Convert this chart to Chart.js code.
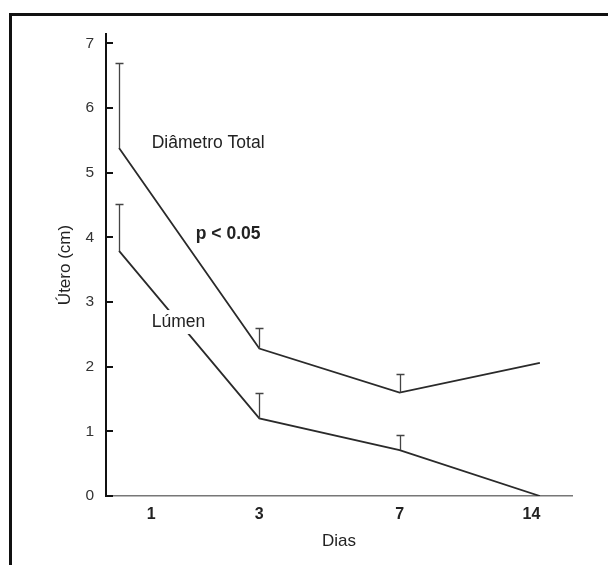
<!DOCTYPE html>
<html>
<head>
<meta charset="utf-8">
<script src="https://cdn.jsdelivr.net/npm/chart.js@4/dist/chart.umd.min.js"></script>
<style>
  html, body { margin: 0; padding: 0; background: #fff; width: 608px; height: 565px; overflow: hidden; }
  #frame { position: absolute; left: 9px; top: 13px; width: 700px; height: 700px; border-left: 3px solid #111; border-top: 3px solid #111; box-sizing: border-box; }
  #c { position: absolute; left: 0; top: 0; }
</style>
</head>
<body>
<div id="frame"></div>
<canvas id="c" width="608" height="565"></canvas>
<script>
// ---- data ----
const categories = ['1', '3', '7', '14'];           // Dias
const diametroTotal = [5.38, 2.28, 1.60, 2.06];     // cm
const diametroTotalErr = [1.32, 0.32, 0.29, null];  // upper error (SD)
const lumen = [3.79, 1.20, 0.71, 0.0];              // cm
const lumenErr = [0.72, 0.40, 0.23, null];
const yTicks = [0, 1, 2, 3, 4, 5, 6, 7];

const FONT = '"Liberation Sans", Arial, Helvetica, sans-serif';

const errorBarPlugin = {
  id: 'errorBars',
  afterDatasetsDraw(chart) {
    const {ctx, scales: {x, y}} = chart;
    ctx.save();
    ctx.strokeStyle = '#444';
    ctx.lineWidth = 1.3;
    chart.data.datasets.forEach(ds => {
      const errs = ds.errors || [];
      ds.data.forEach((p, i) => {
        const e = errs[i];
        if (e == null) return;
        const px = Math.round(x.getPixelForValue(p.x)) + 0.5;
        const py0 = y.getPixelForValue(p.y);
        const py1 = Math.round(y.getPixelForValue(p.y + e)) + 0.5;
        ctx.beginPath();
        ctx.moveTo(px, py0);
        ctx.lineTo(px, py1);
        ctx.moveTo(px - 4, py1);
        ctx.lineTo(px + 4, py1);
        ctx.stroke();
      });
    });
    ctx.restore();
  }
};

const innerTicksPlugin = {
  id: 'innerTicks',
  afterDraw(chart) {
    const {ctx, scales: {y}} = chart;
    ctx.save();
    ctx.strokeStyle = '#111';
    ctx.lineWidth = 2;
    yTicks.forEach(v => {
      const py = Math.round(y.getPixelForValue(v));
      ctx.beginPath();
      ctx.moveTo(y.right, py);
      ctx.lineTo(y.right + 7, py);
      ctx.stroke();
    });
    ctx.restore();
  }
};

const textLabelPlugin = {
  id: 'textLabels',
  afterDraw(chart, args, opts) {
    const {ctx, scales: {x, y}} = chart;
    ctx.save();
    ctx.textAlign = 'left';
    ctx.textBaseline = 'middle';
    (opts.items || []).forEach(it => {
      ctx.font = (it.bold ? 'bold ' : '') + '17.5px ' + FONT;
      const px = x.getPixelForValue(it.x);
      const py = y.getPixelForValue(it.y);
      const w = ctx.measureText(it.text).width;
      ctx.fillStyle = '#fff';
      ctx.fillRect(px - 4, py - 12, w + 8, 24);
      ctx.fillStyle = '#222';
      ctx.fillText(it.text, px, py);
    });
    ctx.restore();
  }
};

const toPts = arr => arr.map((v, i) => ({x: i, y: v}));

new Chart(document.getElementById('c'), {
  type: 'line',
  data: {
    datasets: [
      {
        label: 'Diâmetro Total',
        data: toPts(diametroTotal),
        errors: diametroTotalErr,
        borderColor: '#2a2a2a',
        borderWidth: 1.8,
        pointRadius: 0,
        tension: 0,
        fill: false
      },
      {
        label: 'Lúmen',
        data: toPts(lumen),
        errors: lumenErr,
        borderColor: '#2a2a2a',
        borderWidth: 1.8,
        pointRadius: 0,
        tension: 0,
        fill: false
      }
    ]
  },
  options: {
    responsive: false,
    animation: false,
    devicePixelRatio: 1,
    layout: { padding: { left: 10, top: 34, right: 36, bottom: 0 } },
    plugins: {
      legend: { display: false },
      tooltip: { enabled: false },
      textLabels: {
        items: [
          { text: 'Diâmetro Total', x: 0.233, y: 5.46, bold: false },
          { text: 'p < 0.05', x: 0.547, y: 4.05, bold: true },
          { text: 'Lúmen', x: 0.233, y: 2.69, bold: false }
        ]
      }
    },
    scales: {
      x: {
        type: 'linear',
        min: -0.093,
        max: 3.229,
        afterBuildTicks(scale) {
          // label placement along the axis (layout only)
          scale.ticks = [0.23, 1, 2, 2.94].map(v => ({ value: v }));
        },
        afterFit(scale) { scale.height = 69; },
        ticks: {
          autoSkip: false,
          maxRotation: 0,
          padding: 9,
          color: '#222',
          font: { family: FONT, size: 16, weight: 'bold' },
          callback: (v, i) => categories[i]
        },
        grid: { drawOnChartArea: false, drawTicks: false },
        border: { display: true, color: '#777', width: 1.5 },
        title: {
          display: true,
          text: 'Dias',
          color: '#222',
          font: { family: FONT, size: 17 },
          padding: { top: 0, bottom: 13 }
        }
      },
      y: {
        type: 'linear',
        min: 0,
        max: 7.144,
        afterBuildTicks(scale) {
          scale.ticks = yTicks.map(v => ({ value: v }));
        },
        afterFit(scale) { scale.width = 96; },
        ticks: {
          padding: 12,
          color: '#333',
          font: { family: FONT, size: 15.5 },
          callback: v => String(v)
        },
        grid: { drawOnChartArea: false, drawTicks: false },
        border: { display: true, color: '#111', width: 2 },
        title: {
          display: true,
          text: 'Útero (cm)',
          color: '#222',
          font: { family: FONT, size: 17 },
          padding: { top: 45, bottom: 0 }
        }
      }
    }
  },
  plugins: [errorBarPlugin, innerTicksPlugin, textLabelPlugin]
});
</script>
</body>
</html>
